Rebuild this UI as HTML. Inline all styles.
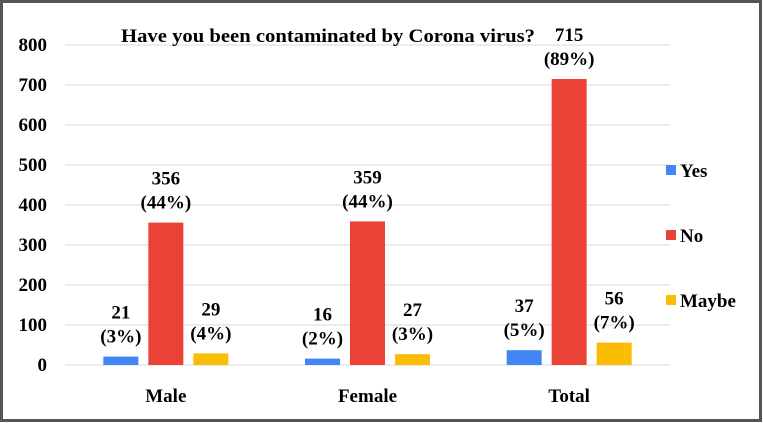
<!DOCTYPE html>
<html><head><meta charset="utf-8"><style>
body{margin:0;background:#fff}
svg{display:block}
svg text{font-family:'Liberation Serif','Times New Roman',serif !important;font-weight:bold;fill:#000}
</style></head><body>
<svg width="763" height="423" font-family="Liberation Serif, serif">
<rect x="1.5" y="1.5" width="759" height="419" fill="#fff" stroke="#555" stroke-width="3"/>
<g id="grid"></g><g id="bars"></g><g id="labels"></g>
<text x="328" y="42" text-anchor="middle" font-size="19" textLength="414" lengthAdjust="spacingAndGlyphs">Have you been contaminated by Corona virus?</text>
<g>
<rect x="666" y="165" width="10" height="10" fill="#4285f4"/>
<text x="680" y="177" font-size="19">Yes</text>
<rect x="666" y="230" width="10" height="10" fill="#ea4335"/>
<text x="680" y="242" font-size="19">No</text>
<rect x="666" y="295" width="10" height="10" fill="#fbbc04"/>
<text x="680" y="307" font-size="19">Maybe</text>
</g>
</svg>
<script>
const categories=["Male","Female","Total"];
const yesValues=[21,16,37];
const noValues=[356,359,715];
const maybeValues=[29,27,56];
const yesPct=["3%","2%","5%"];
const noPct=["44%","44%","89%"];
const maybePct=["4%","3%","7%"];
const yTicks=[0,100,200,300,400,500,600,700,800];
const NS="http://www.w3.org/2000/svg";
const x0=65,x1=670,yBase=365,yTop=45,yMax=800;
const y=v=>yBase-(v/yMax)*(yBase-yTop);
const bandW=(x1-x0)/categories.length;
const cx=i=>x0+bandW*(i+0.5);
function mk(t,a,p){const e=document.createElementNS(NS,t);for(const k in a)e.setAttribute(k,a[k]);p.appendChild(e);return e;}
const grid=document.getElementById('grid'),bars=document.getElementById('bars'),labels=document.getElementById('labels');
yTicks.forEach(v=>{
 const l=mk('line',{x1:x0,x2:x1,y1:y(v),y2:y(v),stroke:'#d9d9d9','stroke-width':1},grid);
 
 
 const t=mk('text',{x:47,y:y(v)+6,'text-anchor':'end','font-size':19},grid);
 t.textContent=v;
 
 
});
const series=[{vals:yesValues,pct:yesPct,c:'#4285f4',n:'yes',off:-45},{vals:noValues,pct:noPct,c:'#ea4335',n:'no',off:0},{vals:maybeValues,pct:maybePct,c:'#fbbc04',n:'maybe',off:45}];
categories.forEach((c,i)=>{
 const t=mk('text',{x:cx(i),y:402,'text-anchor':'middle','font-size':19},labels);
 t.textContent=c;
 
 
 series.forEach(s=>{
  const v=s.vals[i],bx=cx(i)+s.off;
  const r=mk('rect',{x:bx-17.5,y:y(v),width:35,height:yBase-y(v),fill:s.c},bars);
  
  
  const a=mk('text',{x:bx,y:y(v)-38,'text-anchor':'middle','font-size':19},labels);
  a.textContent=v;
  
  
  const b=mk('text',{x:bx,y:y(v)-14,'text-anchor':'middle','font-size':19},labels);
  b.textContent='('+s.pct[i]+')';
  
  
 });
});
</script>
</body></html>
